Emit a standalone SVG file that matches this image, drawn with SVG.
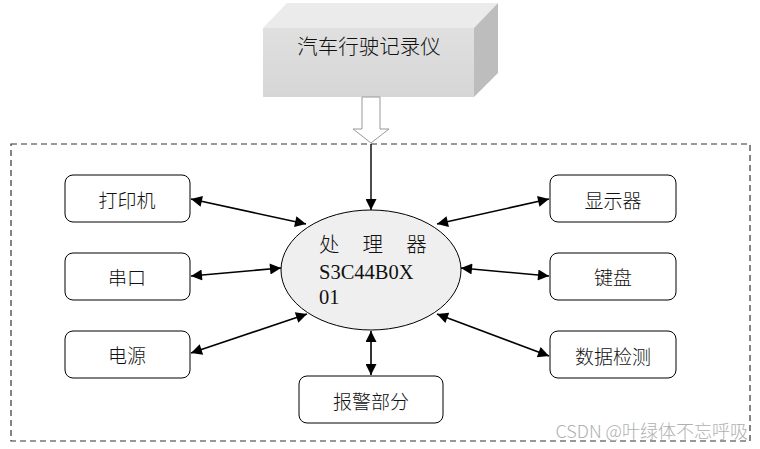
<svg xmlns="http://www.w3.org/2000/svg" width="760" height="449" viewBox="0 0 760 449">
<defs>
<style>
.box{fill:#fff;stroke:#000;stroke-width:1}
.lbl{font-family:"Noto Sans CJK SC","Liberation Sans",sans-serif;font-size:19px;font-weight:300;fill:#111;text-anchor:middle;dominant-baseline:central}
.conn{stroke:#000;stroke-width:1.6;fill:none;marker-start:url(#ah);marker-end:url(#ah)}
.one{stroke:#000;stroke-width:1.4;fill:none;marker-end:url(#ah)}
.cpu{font-family:"Liberation Serif","Noto Sans CJK SC",serif;font-size:20.5px;fill:#111}
</style>
<linearGradient id="gf" x1="0" y1="0" x2="0" y2="1">
<stop offset="0" stop-color="#e0e0e0"/><stop offset="1" stop-color="#d6d6d6"/>
</linearGradient>
<marker id="ah" viewBox="0 0 10 10" refX="10" refY="5" markerWidth="15" markerHeight="11" markerUnits="userSpaceOnUse" orient="auto-start-reverse">
<path d="M0,0 L10,5 L0,10 Z" fill="#000"/>
</marker>
</defs>
<g id="recorder">
<polygon points="263,28 287,3 498,3 474,28" fill="#ebebeb"/>
<polygon points="474,28 498,3 498,73 474,97" fill="#bdbdbd"/>
<rect x="263" y="28" width="211" height="69" fill="url(#gf)"/>
<text class="lbl" x="369" y="45" style="font-size:20.5px">汽车行驶记录仪</text>
</g>
<g id="hollow-arrow">
<path d="M362,97 L380,97 L380,129 L389,129 L371,143 L353,129 L362,129 Z" fill="#fff" stroke="#999" stroke-width="1"/>
</g>
<g id="frame">
<rect x="11" y="144" width="739" height="297" fill="none" stroke="#333" stroke-width="1.2" stroke-dasharray="6,4"/>
</g>
<g id="connectors">
<line class="one" x1="371" y1="144" x2="371" y2="210"/>
<line class="conn" x1="191" y1="199" x2="306" y2="224"/>
<line class="conn" x1="191" y1="276" x2="281" y2="268"/>
<line class="conn" x1="191" y1="353" x2="307" y2="314"/>
<line class="conn" x1="549" y1="199" x2="437" y2="224"/>
<line class="conn" x1="549" y1="276" x2="461" y2="268"/>
<line class="conn" x1="549" y1="356" x2="437" y2="314"/>
<line class="conn" x1="371" y1="375" x2="371" y2="331"/>
</g>
<g id="cpu">
<ellipse cx="371" cy="270" rx="90" ry="60" fill="#efefef" stroke="#000" stroke-width="1"/>
<text class="cpu" x="319" y="252" style="word-spacing:18px;font-weight:300">处 理 器</text>
<text class="cpu" x="319" y="279">S3C44B0X</text>
<text class="cpu" x="319" y="304">01</text>
</g>
<g id="printer"><rect class="box" x="65" y="175" width="125" height="47" rx="8"/><text class="lbl" x="127" y="199">打印机</text></g>
<g id="serial"><rect class="box" x="65" y="253" width="125" height="47" rx="8"/><text class="lbl" x="127" y="276">串口</text></g>
<g id="power"><rect class="box" x="65" y="331" width="125" height="47" rx="8"/><text class="lbl" x="127" y="354">电源</text></g>
<g id="display"><rect class="box" x="550" y="175" width="126" height="47" rx="8"/><text class="lbl" x="613" y="199">显示器</text></g>
<g id="keyboard"><rect class="box" x="550" y="253" width="126" height="47" rx="8"/><text class="lbl" x="613" y="276">键盘</text></g>
<g id="sensing"><rect class="box" x="550" y="331" width="126" height="47" rx="8"/><text class="lbl" x="613" y="355">数据检测</text></g>
<g id="alarm"><rect class="box" x="299" y="376" width="144" height="47" rx="8"/><text class="lbl" x="371" y="400">报警部分</text></g>
<text x="748" y="430" text-anchor="end" dominant-baseline="central" font-family="'Noto Sans CJK SC','Liberation Sans',sans-serif" font-size="18" font-weight="300" fill="#b0b0b0">CSDN @叶绿体不忘呼吸</text>
</svg>
